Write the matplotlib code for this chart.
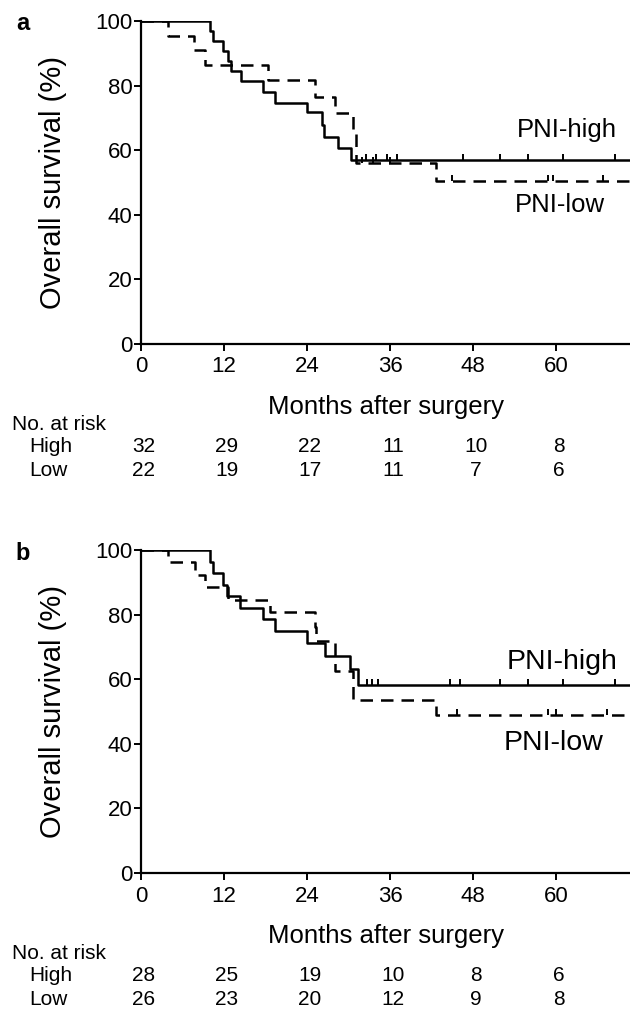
import numpy as np
import matplotlib
matplotlib.use("Agg")
from matplotlib import pyplot as plt

plt.rcParams['font.family'] = ['Liberation Sans', 'DejaVu Sans']

W, H = 630, 1009
month_ticks = [0, 12, 24, 36, 48, 60]
surv_ticks = [0, 20, 40, 60, 80, 100]
row_names = ["High", "Low"]
follow_up = 71

# panel a: step times (months) and survival (%)
a_high_t = [0, 10.0, 10.4, 11.9, 12.6, 13.0, 14.5, 17.7, 19.4, 24.0, 26.2, 26.5, 28.5, 30.4]
a_high_s = [100, 96.9, 93.8, 90.6, 87.5, 84.4, 81.3, 78.1, 74.6, 71.9, 67.9, 64.2, 60.6, 57.0]
a_low_t = [0, 3.9, 7.6, 9.2, 18.4, 25.1, 28.0, 30.7, 31.1, 42.7]
a_low_s = [100, 95.5, 90.9, 86.4, 81.6, 76.5, 71.4, 66.0, 56.1, 50.6]
a_high_cens = [32.5, 34.0, 35.5, 37.0, 46.5, 51.9, 55.9, 61.0, 68.5]
a_low_cens = [32.0, 33.5, 36.0, 44.9, 58.8, 59.6, 66.8]
a_high_risk = [32, 29, 22, 11, 10, 8]
a_low_risk = [22, 19, 17, 11, 7, 6]

# panel b
b_high_t = [0, 10.0, 10.4, 11.9, 12.4, 14.3, 17.7, 19.4, 24.0, 26.6, 30.2, 31.3]
b_high_s = [100, 96.4, 92.9, 89.3, 85.7, 82.1, 78.6, 75.0, 71.1, 67.2, 63.2, 58.3]
b_low_t = [0, 3.9, 7.8, 9.2, 12.6, 18.6, 25.1, 25.3, 28.0, 30.7, 42.7]
b_low_s = [100, 96.2, 92.3, 88.5, 84.6, 80.8, 76.3, 71.8, 62.4, 53.6, 48.9]
b_high_cens = [32.6, 33.4, 34.2, 44.7, 46.1, 51.9, 55.9, 61.0, 68.5]
b_low_cens = [45.7, 58.8, 60.0, 67.3]
b_high_risk = [28, 25, 19, 10, 8, 6]
b_low_risk = [26, 23, 20, 12, 9, 8]


def surv_at(times, surv, t):
    idx = np.searchsorted(times, t, side='right') - 1
    return np.array(surv)[idx]


def km_line(ax, times, surv, cens, dashed):
    t = list(times) + [follow_up]
    s = list(surv) + [surv[-1]]
    ls = (0, (5.0, 3.2)) if dashed else '-'
    ax.step(t, s, where='post', color='black', lw=1.8, linestyle=ls)
    ax.plot(cens, surv_at(times, surv, cens) + 0.8, linestyle='none',
            marker='|', ms=5, mew=1.4, color='black')


def panel(top_px, letter, high, low, high_lbl, low_lbl, lbl_size):
    left_px, bot_px = 141, top_px + 323
    ax = fig.add_axes([left_px / W, 1 - bot_px / H, (W - left_px) / W, 323 / H])
    km_line(ax, high[0], high[1], high[2], False)
    km_line(ax, low[0], low[1], low[2], True)
    ax.set_xlim(0, (W - left_px) / 6.92)
    ax.set_ylim(0, 100)
    ax.set_xticks(month_ticks)
    ax.set_yticks(surv_ticks)
    ax.tick_params(labelsize=16, width=1.4, length=5)
    ax.tick_params(axis='y', pad=1)
    ax.tick_params(axis='x', pad=4)
    for side in ['top', 'right']:
        ax.spines[side].set_visible(False)
    for side in ['left', 'bottom']:
        ax.spines[side].set_linewidth(1.6)
    ax.set_ylabel("Overall survival (%)", fontsize=21)
    ax.yaxis.set_label_coords(-0.151, 0.5)
    ax.set_xlabel("Months after surgery", fontsize=18.5)
    ax.xaxis.set_label_coords(0.5, -0.158)

    ax.text(high_lbl[0], high_lbl[1], "PNI-high", fontsize=lbl_size, ha='right', va='center')
    ax.text(low_lbl[0], low_lbl[1], "PNI-low", fontsize=lbl_size, ha='left', va='center')

    fig.text(22.5 / W, 1 - (top_px + 3) / H, letter, fontsize=17, fontweight='bold',
             ha='center', va='center')

    # numbers at risk
    tr = ax.get_xaxis_transform()
    fig.text(12 / W, 1 - (top_px + 409) / H, "No. at risk", fontsize=15, va='baseline')
    rows_y = [top_px + 431, top_px + 455]
    for name, counts, y in zip(row_names, [high[3], low[3]], rows_y):
        fig.text(29 / W, 1 - y / H, name, fontsize=15, va='baseline')
        for m, n in zip(month_ticks, counts):
            ax.text(m + 0.4, (bot_px - y) / 323, str(n), transform=tr, fontsize=15,
                    ha='center', va='baseline')
    return ax


fig = plt.figure(figsize=(W / 100, H / 100), dpi=100)

panel(21, "a", (a_high_t, a_high_s, a_high_cens, a_high_risk),
      (a_low_t, a_low_s, a_low_cens, a_low_risk), (68.8, 66.3), (54.0, 43.0), 18.5)
panel(550, "b", (b_high_t, b_high_s, b_high_cens, b_high_risk),
      (b_low_t, b_low_s, b_low_cens, b_low_risk), (68.8, 65.3), (52.4, 40.2), 20.5)

fig.savefig("out.png", dpi=100)
